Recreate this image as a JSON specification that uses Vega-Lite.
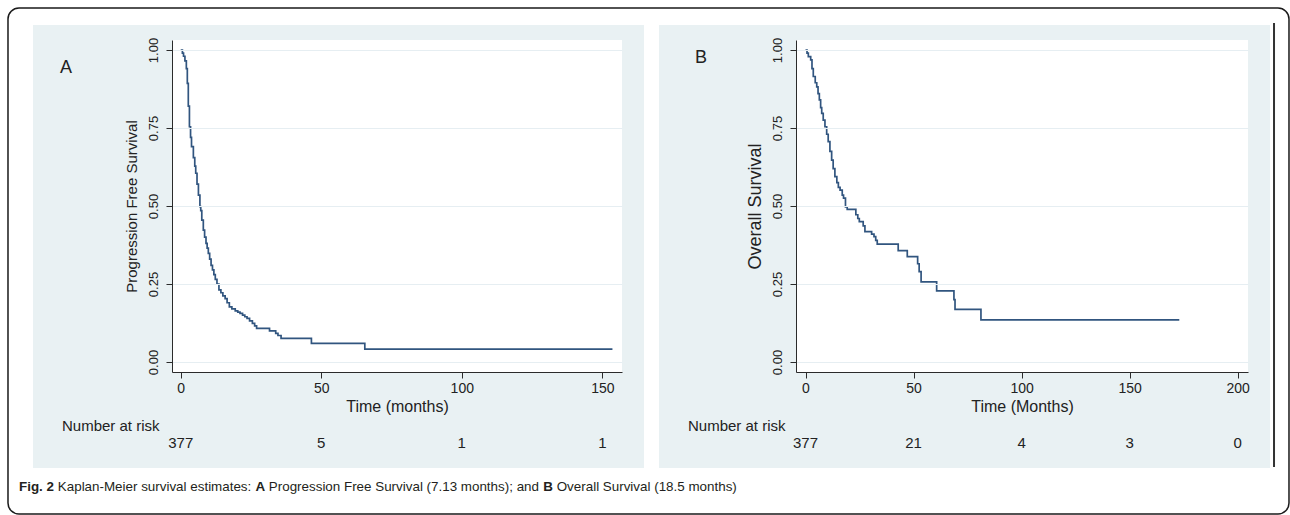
{
  "$schema": "https://vega.github.io/schema/vega-lite/v6.json",
  "background": "white",
  "padding": {"left": 7, "top": 7, "right": 0, "bottom": 0},
  "bounds": "flush",
  "spacing": 174,
  "config": {
    "view": {"stroke": null, "fill": null},
    "axis": {
      "domainColor": "#2b2b2b", "tickColor": "#2b2b2b", "labelColor": "#222222", "titleColor": "#222222",
      "labelFont": "Liberation Sans", "titleFont": "Liberation Sans",
      "labelFontSize": 14, "titleFontSize": 15, "titleFontWeight": "normal",
      "tickSize": 6, "domainWidth": 1, "tickWidth": 1,
      "gridColor": "#E6EEF2", "gridWidth": 1, "zindex": 1,
      "labelFlush": false, "labelOverlap": false
    },
    "text": {"font": "Liberation Sans", "color": "#222222"}
  },
  "datasets": {
    "pfs": [
      {"t": 0, "s": 1}, {"t": 0.6, "s": 0.99}, {"t": 1.0, "s": 0.98}, {"t": 1.5, "s": 0.965}, {"t": 2.0, "s": 0.94},
      {"t": 2.35, "s": 0.893}, {"t": 2.7, "s": 0.82}, {"t": 3.1, "s": 0.754}, {"t": 3.5, "s": 0.72}, {"t": 3.84, "s": 0.69},
      {"t": 4.5, "s": 0.655}, {"t": 5.0, "s": 0.628}, {"t": 5.34, "s": 0.605}, {"t": 5.8, "s": 0.57}, {"t": 6.3, "s": 0.535},
      {"t": 6.83, "s": 0.498}, {"t": 7.13, "s": 0.485}, {"t": 7.5, "s": 0.455}, {"t": 8.04, "s": 0.423}, {"t": 8.5, "s": 0.4},
      {"t": 9.0, "s": 0.38}, {"t": 9.4, "s": 0.365}, {"t": 9.82, "s": 0.348}, {"t": 10.3, "s": 0.33}, {"t": 10.8, "s": 0.31},
      {"t": 11.3, "s": 0.295}, {"t": 11.8, "s": 0.28}, {"t": 12.3, "s": 0.265}, {"t": 12.9, "s": 0.25}, {"t": 13.6, "s": 0.231},
      {"t": 14.3, "s": 0.222}, {"t": 15.0, "s": 0.212}, {"t": 15.8, "s": 0.203}, {"t": 16.5, "s": 0.19}, {"t": 17.3, "s": 0.177},
      {"t": 18.2, "s": 0.17}, {"t": 19.4, "s": 0.164}, {"t": 20.3, "s": 0.16}, {"t": 21.1, "s": 0.156}, {"t": 22.0, "s": 0.15},
      {"t": 22.8, "s": 0.145}, {"t": 23.6, "s": 0.14}, {"t": 24.5, "s": 0.132}, {"t": 25.5, "s": 0.124}, {"t": 26.3, "s": 0.116},
      {"t": 27.0, "s": 0.108}, {"t": 31.6, "s": 0.1}, {"t": 33.8, "s": 0.092}, {"t": 34.6, "s": 0.085}, {"t": 35.7, "s": 0.076},
      {"t": 46.5, "s": 0.06}, {"t": 65.5, "s": 0.041}, {"t": 153.6, "s": 0.041}
    ],
    "os": [
      {"t": 0, "s": 1}, {"t": 0.7, "s": 0.99}, {"t": 1.3, "s": 0.979}, {"t": 2.4, "s": 0.968}, {"t": 3.0, "s": 0.94},
      {"t": 3.6, "s": 0.915}, {"t": 4.5, "s": 0.895}, {"t": 5.2, "s": 0.882}, {"t": 5.8, "s": 0.86}, {"t": 6.4, "s": 0.84},
      {"t": 7.0, "s": 0.815}, {"t": 7.5, "s": 0.797}, {"t": 8.2, "s": 0.775}, {"t": 9.0, "s": 0.754}, {"t": 9.8, "s": 0.73},
      {"t": 10.5, "s": 0.706}, {"t": 11.3, "s": 0.675}, {"t": 12.1, "s": 0.647}, {"t": 12.8, "s": 0.62}, {"t": 13.6, "s": 0.594},
      {"t": 14.5, "s": 0.575}, {"t": 15.2, "s": 0.56}, {"t": 16.0, "s": 0.551}, {"t": 17.0, "s": 0.535}, {"t": 17.6, "s": 0.525},
      {"t": 18.5, "s": 0.497}, {"t": 19.3, "s": 0.489}, {"t": 23.3, "s": 0.472}, {"t": 24.2, "s": 0.46}, {"t": 24.9, "s": 0.45},
      {"t": 26.7, "s": 0.436}, {"t": 27.5, "s": 0.418}, {"t": 30.6, "s": 0.41}, {"t": 31.7, "s": 0.402}, {"t": 32.5, "s": 0.39},
      {"t": 33.2, "s": 0.378}, {"t": 42.9, "s": 0.357}, {"t": 47.1, "s": 0.338}, {"t": 51.9, "s": 0.315}, {"t": 52.6, "s": 0.29},
      {"t": 53.5, "s": 0.257}, {"t": 60.7, "s": 0.228}, {"t": 68.7, "s": 0.2}, {"t": 69.2, "s": 0.169}, {"t": 81.2, "s": 0.135},
      {"t": 173.0, "s": 0.135}
    ],
    "riskA": [
      {"t": 0, "n": "377"}, {"t": 50, "n": "5"}, {"t": 100, "n": "1"}, {"t": 150, "n": "1"}
    ],
    "riskB": [
      {"t": 0, "n": "377"}, {"t": 50, "n": "21"}, {"t": 100, "n": "4"}, {"t": 150, "n": "3"}, {"t": 200, "n": "0"}
    ]
  },
  "hconcat": [
    {
      "width": 450,
      "height": 332,
      "layer": [
        {
          "data": {"values": [{}]},
          "mark": {"type": "rect", "fill": "#E9F1F3"},
          "encoding": {
            "x": {"datum": -52.55, "type": "quantitative", "scale": {"domain": [-3.1, 157], "nice": false, "zero": false}},
            "x2": {"datum": 164.83},
            "y": {"datum": 1.0801, "type": "quantitative", "scale": {"domain": [-0.032, 1.032], "nice": false, "zero": false}},
            "y2": {"datum": -0.3397}
          }
        },
        {
          "data": {"values": [{}]},
          "mark": {"type": "rect", "fill": "white"},
          "encoding": {
            "x": {"datum": -3.1, "type": "quantitative", "scale": {"domain": [-3.1, 157], "nice": false, "zero": false}},
            "x2": {"datum": 157},
            "y": {"datum": 1.032, "type": "quantitative", "scale": {"domain": [-0.032, 1.032], "nice": false, "zero": false}},
            "y2": {"datum": -0.032}
          }
        },
        {
          "data": {"values": [{}]},
          "mark": {"type": "rect", "fill": "white", "fillOpacity": 0, "stroke": "#1a1a1a", "strokeWidth": 1.5, "cornerRadius": 11},
          "encoding": {
            "x": {"datum": -61.45, "type": "quantitative", "scale": {"domain": [-3.1, 157], "nice": false, "zero": false}},
            "x2": {"datum": 394.3},
            "y": {"datum": 1.1346, "type": "quantitative", "scale": {"domain": [-0.032, 1.032], "nice": false, "zero": false}},
            "y2": {"datum": -0.487}
          }
        },
        {
          "data": {"name": "pfs"},
          "mark": {"type": "line", "interpolate": "step-after", "color": "#31557f", "strokeWidth": 1.7},
          "encoding": {
            "x": {
              "field": "t", "type": "quantitative",
              "scale": {"domain": [-3.1, 157], "nice": false, "zero": false},
              "axis": {"values": [0, 50, 100, 150], "title": "Time (months)", "grid": false, "zindex": 2, "labelPadding": 3, "titlePadding": 3, "titleFontSize": 16, "labelFontSize": 14}
            },
            "y": {
              "field": "s", "type": "quantitative",
              "scale": {"domain": [-0.032, 1.032], "nice": false, "zero": false},
              "axis": {"values": [0, 0.25, 0.5, 0.75, 1], "format": ".2f", "title": "Progression Free Survival", "zindex": 2, "labelAngle": -90, "labelAlign": "center", "labelBaseline": "bottom", "labelPadding": 6, "titlePadding": 8, "titleFontSize": 15, "labelFontSize": 13, "grid": true}
            }
          }
        },
        {
          "data": {"name": "riskA"},
          "mark": {"type": "text", "fontSize": 15, "align": "center", "baseline": "middle"},
          "encoding": {
            "x": {"field": "t", "type": "quantitative", "scale": {"domain": [-3.1, 157], "nice": false, "zero": false}},
            "y": {"datum": -0.2597, "type": "quantitative", "scale": {"domain": [-0.032, 1.032], "nice": false, "zero": false}},
            "text": {"field": "n"}
          }
        },
        {
          "data": {"values": [{}]},
          "mark": {"type": "text", "text": "Number at risk", "fontSize": 15, "align": "left", "baseline": "middle"},
          "encoding": {
            "x": {"datum": -42.24, "type": "quantitative", "scale": {"domain": [-3.1, 157], "nice": false, "zero": false}},
            "y": {"datum": -0.2052, "type": "quantitative", "scale": {"domain": [-0.032, 1.032], "nice": false, "zero": false}}
          }
        },
        {
          "data": {"values": [{}]},
          "mark": {"type": "text", "text": "A", "fontSize": 18, "align": "center", "baseline": "middle"},
          "encoding": {
            "x": {"datum": -40.81, "type": "quantitative", "scale": {"domain": [-3.1, 157], "nice": false, "zero": false}},
            "y": {"datum": 0.9423, "type": "quantitative", "scale": {"domain": [-0.032, 1.032], "nice": false, "zero": false}}
          }
        },
        {
          "data": {"values": [{}]},
          "mark": {"type": "text", "text": "Fig. 2", "fontWeight": "bold", "fontSize": 13.4, "align": "left", "baseline": "middle", "color": "#231f20"},
          "encoding": {
            "x": {"datum": -57.53, "type": "quantitative", "scale": {"domain": [-3.1, 157], "nice": false, "zero": false}},
            "y": {"datum": -0.4007, "type": "quantitative", "scale": {"domain": [-0.032, 1.032], "nice": false, "zero": false}}
          }
        },
        {
          "data": {"values": [{}]},
          "mark": {"type": "text", "text": "Kaplan-Meier survival estimates:", "fontSize": 13.4, "align": "left", "baseline": "middle", "color": "#231f20"},
          "encoding": {
            "x": {"datum": -43.73, "type": "quantitative", "scale": {"domain": [-3.1, 157], "nice": false, "zero": false}},
            "y": {"datum": -0.4007, "type": "quantitative", "scale": {"domain": [-0.032, 1.032], "nice": false, "zero": false}}
          }
        },
        {
          "data": {"values": [{}]},
          "mark": {"type": "text", "text": "A", "fontWeight": "bold", "fontSize": 13.4, "align": "left", "baseline": "middle", "color": "#231f20"},
          "encoding": {
            "x": {"datum": 26.57, "type": "quantitative", "scale": {"domain": [-3.1, 157], "nice": false, "zero": false}},
            "y": {"datum": -0.4007, "type": "quantitative", "scale": {"domain": [-0.032, 1.032], "nice": false, "zero": false}}
          }
        },
        {
          "data": {"values": [{}]},
          "mark": {"type": "text", "text": "Progression Free Survival (7.13 months); and", "fontSize": 13.4, "align": "left", "baseline": "middle", "color": "#231f20"},
          "encoding": {
            "x": {"datum": 31.34, "type": "quantitative", "scale": {"domain": [-3.1, 157], "nice": false, "zero": false}},
            "y": {"datum": -0.4007, "type": "quantitative", "scale": {"domain": [-0.032, 1.032], "nice": false, "zero": false}}
          }
        },
        {
          "data": {"values": [{}]},
          "mark": {"type": "text", "text": "B", "fontWeight": "bold", "fontSize": 13.4, "align": "left", "baseline": "middle", "color": "#231f20"},
          "encoding": {
            "x": {"datum": 129.0, "type": "quantitative", "scale": {"domain": [-3.1, 157], "nice": false, "zero": false}},
            "y": {"datum": -0.4007, "type": "quantitative", "scale": {"domain": [-0.032, 1.032], "nice": false, "zero": false}}
          }
        },
        {
          "data": {"values": [{}]},
          "mark": {"type": "text", "text": "Overall Survival (18.5 months)", "fontSize": 13.4, "align": "left", "baseline": "middle", "color": "#231f20"},
          "encoding": {
            "x": {"datum": 133.77, "type": "quantitative", "scale": {"domain": [-3.1, 157], "nice": false, "zero": false}},
            "y": {"datum": -0.4007, "type": "quantitative", "scale": {"domain": [-0.032, 1.032], "nice": false, "zero": false}}
          }
        }
      ]
    },
    {
      "width": 452,
      "height": 332,
      "layer": [
        {
          "data": {"values": [{}]},
          "mark": {"type": "rect", "fill": "#E9F1F3"},
          "encoding": {
            "x": {"datum": -67.81, "type": "quantitative", "scale": {"domain": [-4.4, 204.8], "nice": false, "zero": false}},
            "x2": {"datum": 214.98},
            "y": {"datum": 1.0801, "type": "quantitative", "scale": {"domain": [-0.032, 1.032], "nice": false, "zero": false}},
            "y2": {"datum": -0.3397}
          }
        },
        {
          "data": {"values": [{}]},
          "mark": {"type": "rect", "fill": "white"},
          "encoding": {
            "x": {"datum": -4.4, "type": "quantitative", "scale": {"domain": [-4.4, 204.8], "nice": false, "zero": false}},
            "x2": {"datum": 204.8},
            "y": {"datum": 1.032, "type": "quantitative", "scale": {"domain": [-0.032, 1.032], "nice": false, "zero": false}},
            "y2": {"datum": -0.032}
          }
        },
        {
          "data": {"values": [{}]},
          "mark": {"type": "rule", "color": "#333333", "strokeWidth": 2},
          "encoding": {
            "x": {"datum": 216.84, "type": "quantitative", "scale": {"domain": [-4.4, 204.8], "nice": false, "zero": false}},
            "y": {"datum": 1.0865, "type": "quantitative", "scale": {"domain": [-0.032, 1.032], "nice": false, "zero": false}},
            "y2": {"datum": -0.3365}
          }
        },
        {
          "data": {"name": "os"},
          "mark": {"type": "line", "interpolate": "step-after", "color": "#31557f", "strokeWidth": 1.7},
          "encoding": {
            "x": {
              "field": "t", "type": "quantitative",
              "scale": {"domain": [-4.4, 204.8], "nice": false, "zero": false},
              "axis": {"values": [0, 50, 100, 150, 200], "title": "Time (Months)", "grid": false, "zindex": 2, "labelPadding": 3, "titlePadding": 3, "titleFontSize": 16, "labelFontSize": 14}
            },
            "y": {
              "field": "s", "type": "quantitative",
              "scale": {"domain": [-0.032, 1.032], "nice": false, "zero": false},
              "axis": {"values": [0, 0.25, 0.5, 0.75, 1], "format": ".2f", "title": "Overall Survival", "zindex": 2, "labelAngle": -90, "labelAlign": "center", "labelBaseline": "bottom", "labelPadding": 6, "titlePadding": 7, "titleFontSize": 18, "labelFontSize": 13, "grid": true}
            }
          }
        },
        {
          "data": {"name": "riskB"},
          "mark": {"type": "text", "fontSize": 15, "align": "center", "baseline": "middle"},
          "encoding": {
            "x": {"field": "t", "type": "quantitative", "scale": {"domain": [-4.4, 204.8], "nice": false, "zero": false}},
            "y": {"datum": -0.2597, "type": "quantitative", "scale": {"domain": [-0.032, 1.032], "nice": false, "zero": false}},
            "text": {"field": "n"}
          }
        },
        {
          "data": {"values": [{}]},
          "mark": {"type": "text", "text": "Number at risk", "fontSize": 15, "align": "left", "baseline": "middle"},
          "encoding": {
            "x": {"datum": -54.39, "type": "quantitative", "scale": {"domain": [-4.4, 204.8], "nice": false, "zero": false}},
            "y": {"datum": -0.2052, "type": "quantitative", "scale": {"domain": [-0.032, 1.032], "nice": false, "zero": false}}
          }
        },
        {
          "data": {"values": [{}]},
          "mark": {"type": "text", "text": "B", "fontSize": 18, "align": "center", "baseline": "middle"},
          "encoding": {
            "x": {"datum": -48.37, "type": "quantitative", "scale": {"domain": [-4.4, 204.8], "nice": false, "zero": false}},
            "y": {"datum": 0.9743, "type": "quantitative", "scale": {"domain": [-0.032, 1.032], "nice": false, "zero": false}}
          }
        }
      ]
    }
  ]
}
